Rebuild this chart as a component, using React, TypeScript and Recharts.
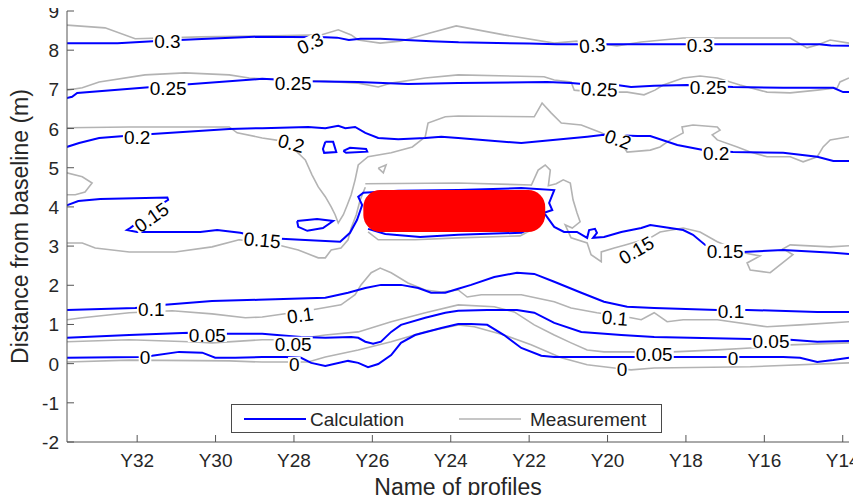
import React from 'react';
import { ComposedChart, Line, XAxis, YAxis, Scatter, ReferenceArea } from 'recharts';

type P = [number, number];

const xTicks = [32, 30, 28, 26, 24, 22, 20, 18, 16, 14];
const xTickLabels = ['Y32', 'Y30', 'Y28', 'Y26', 'Y24', 'Y22', 'Y20', 'Y18', 'Y16', 'Y14'];
const yTicks = [-2, -1, 0, 1, 2, 3, 4, 5, 6, 7, 8, 9];

// ---- Calculation contours ----
const calc030: P[] = [[33.8,8.18],[32.5,8.18],[31.6,8.23],[30.5,8.28],[29,8.34],[27.2,8.33],[26.9,8.32],[26.6,8.26],[26.3,8.29],[25.8,8.29],[24.5,8.23],[23.8,8.2],[22,8.17],[21.3,8.15],[19,8.15],[16.4,8.15],[14.6,8.15],[14.3,8.12],[13.84,8.11]];
const calc025: P[] = [[33.8,6.78],[33.66,6.81],[33.53,6.91],[31.62,7.06],[28.81,7.27],[27.64,7.21],[26.36,7.19],[25.09,7.14],[23.81,7.16],[21.54,7.19],[20.93,7.16],[20.34,7.11],[19.76,7.11],[19.4,7.06],[18.81,7.09],[17.97,7.11],[16.8,7.06],[15.52,7.04],[14.24,7.04],[13.99,6.93],[13.84,6.93]];
const calc020: P[] = [[33.8,5.53],[33.48,5.63],[32.97,5.76],[32.33,5.81],[31.62,5.86],[29.65,5.99],[28.81,6.01],[27.64,6.04],[27.2,6.01],[26.87,6.07],[26.69,6.01],[26.44,6.04],[26.18,5.89],[25.85,5.76],[25.34,5.73],[24.65,5.76],[24.24,5.79],[23.81,5.76],[22.2,5.63],[20.52,5.79],[20.09,5.84],[19.24,5.81],[18.91,5.81],[18.22,5.58],[17.56,5.45],[16.8,5.4],[15.52,5.38],[14.65,5.28],[14.24,5.17],[13.84,5.17]];
const calc020LoopA: P[] = [[27.2,5.66],[27.0,5.66],[26.92,5.4],[27.23,5.38],[27.26,5.48],[27.2,5.66]];
const calc020LoopB: P[] = [[26.74,5.43],[26.57,5.51],[26.16,5.48],[26.13,5.41],[26.67,5.38],[26.74,5.43]];
const calc015A: P[] = [[33.8,4.04],[33.5,4.15],[32.94,4.2],[31.23,4.24],[31.21,4.18],[31.41,4.05],[32.18,3.46],[32.26,3.41],[32.0,3.36],[30.39,3.36],[29.96,3.41],[29.37,3.34],[28.81,3.21],[27.84,3.16],[26.82,3.11],[26.57,3.34],[26.39,3.67],[26.26,4.05],[26.36,4.26],[26.23,4.36],[25.34,4.41],[23.81,4.43],[22.2,4.48],[21.36,4.43],[21.49,4.1],[21.41,3.92],[21.62,3.85],[21.54,3.74],[21.36,3.49],[21.11,3.36],[20.78,3.36],[20.52,3.21],[20.47,3.41],[20.32,3.44],[20.27,3.34],[20.37,3.21],[20.09,3.23],[19.65,3.36],[19.14,3.46],[18.91,3.54],[18.07,3.41],[17.82,3.29],[17.51,3.03],[16.54,2.85],[15.52,2.9],[14.24,2.83],[13.84,2.8]];
const calc015B: P[] = [[26.11,3.44],[25.67,3.31],[24.78,3.23],[23.81,3.29],[22.2,3.34],[21.95,3.46]];
const calc015Loop: P[] = [[27.92,3.64],[27.41,3.69],[27.0,3.64],[27.26,3.46],[27.66,3.39],[27.89,3.49],[27.92,3.64]];
const calc010: P[] = [[33.8,1.37],[32.05,1.42],[31.29,1.5],[30.09,1.6],[28.91,1.63],[27.2,1.68],[26.62,1.81],[26.18,1.93],[25.78,2.01],[25.27,2.01],[24.83,1.93],[24.5,1.81],[24.14,1.81],[23.81,1.91],[23.48,2.01],[22.89,2.21],[22.31,2.32],[21.87,2.29],[21.36,2.09],[20.67,1.81],[20.09,1.58],[19.5,1.45],[18.81,1.42],[17.2,1.37],[16.44,1.37],[14.65,1.32],[13.84,1.32]];
const calc005: P[] = [[33.8,0.66],[32.2,0.73],[30.67,0.79],[29.76,0.76],[28.81,0.76],[27.82,0.68],[27.2,0.66],[26.54,0.68],[26.36,0.66],[26.18,0.56],[25.98,0.51],[25.78,0.56],[25.52,0.81],[25.27,0.99],[24.65,1.17],[24.14,1.3],[23.81,1.35],[23.07,1.37],[22.31,1.37],[21.87,1.3],[21.36,1.04],[20.67,0.81],[19.65,0.73],[18.81,0.68],[16.36,0.63],[15.34,0.61],[14.65,0.56],[13.84,0.58]];
const calc000: P[] = [[33.8,0.15],[31.95,0.17],[31.62,0.2],[30.93,0.3],[30.34,0.28],[30.01,0.15],[29.5,0.15],[28.81,0.17],[28.22,0.17],[27.82,0.15],[27.56,0.02],[27.2,-0.06],[26.62,0.07],[26.36,0.02],[26.11,-0.09],[25.85,-0.01],[25.52,0.22],[25.27,0.53],[24.91,0.73],[24.24,0.91],[23.81,1.01],[23.48,1.01],[23.07,0.99],[22.64,0.73],[22.2,0.4],[21.69,0.2],[21.36,0.17],[18.81,0.17],[15.52,0.17],[15.09,0.15],[14.65,0.04],[14.24,0.09],[13.84,0.15]];

// ---- Measurement contours ----
const meas030: P[] = [[33.8,8.64],[32.82,8.57],[32.05,8.29],[30.39,8.34],[28.81,8.36],[27.31,8.39],[26.87,8.52],[26.54,8.39],[26.36,8.26],[25.8,8.18],[25.29,8.23],[24.53,8.44],[23.86,8.62],[22.64,8.39],[21.36,8.18],[20.78,8.23],[20.27,8.18],[19.76,8.11],[19.14,8.21],[18.07,8.31],[16.54,8.31],[15.34,8.31],[14.91,8.06],[14.65,8.13],[14.32,8.26],[13.84,8.18]];
const meas025: P[] = [[33.8,6.98],[33.4,7.04],[32.97,7.19],[31.8,7.37],[30.78,7.42],[29.65,7.37],[29.14,7.29],[28.81,7.27],[27.33,7.21],[26.36,7.16],[25.85,7.06],[25.52,7.16],[24.65,7.29],[23.81,7.37],[21.62,7.32],[21.36,7.24],[20.93,7.19],[20.85,6.98],[20.34,6.93],[19.5,6.93],[19.07,6.86],[18.79,6.98],[18.58,7.11],[18.07,7.29],[17.64,7.34],[17.2,7.29],[16.62,7.11],[15.93,6.93],[15.34,6.91],[14.65,6.98],[14.14,7.04],[14.07,7.19],[13.84,7.29]];
const meas020: P[] = [[33.8,6.02],[32.2,6.04],[29.65,6.04],[29.45,5.89],[28.81,5.76],[28.28,5.68],[27.97,5.45],[27.71,5.2],[27.54,4.82],[27.38,4.51],[27.2,4.26],[27.05,4.0],[26.95,3.8],[26.87,3.59],[26.74,3.8],[26.64,4.05],[26.54,4.31],[26.44,4.69],[26.36,5.07],[26.11,5.28],[25.52,5.38],[24.98,5.53],[24.65,5.79],[24.58,6.14],[24.14,6.3],[23.81,6.32],[21.87,6.3],[21.67,6.65],[21.44,6.4],[21.18,6.14],[20.67,6.09],[20.16,5.89],[19.65,5.63],[19.5,5.4],[18.91,5.45],[18.66,5.53],[18.4,5.71],[18.07,5.89],[18.1,6.04],[17.82,6.09],[17.2,6.04],[17.13,5.96],[17.33,5.84],[17.2,5.71],[16.69,5.53],[16.36,5.4],[15.93,5.28],[15.34,5.28],[15.01,5.15],[14.65,5.28],[14.5,5.53],[14.32,5.71],[13.84,5.79]];
const meas020Tri: P[] = [[25.85,4.99],[25.65,5.07],[25.72,4.87],[25.85,4.99]];
const meas015LeftLoop: P[] = [[33.8,4.87],[33.4,4.77],[33.15,4.61],[33.33,4.38],[33.58,4.31],[33.8,4.31]];
const meas015Left: P[] = [[33.8,3.08],[33.4,3.08],[33.07,2.95],[32.2,2.85],[31.03,2.85],[30.09,2.98],[29.4,3.16],[28.4,3.03],[27.89,2.9],[27.38,2.7],[27.2,2.7],[27.05,2.9],[26.8,2.95],[26.62,3.16],[26.54,3.46],[26.41,3.8],[26.31,4.18],[26.18,4.5]];
const meas015Top: P[] = [[26.18,4.59],[23.81,4.61],[21.95,4.56]];
const meas015Under: P[] = [[26.11,3.36],[25.85,3.16],[24.91,3.16],[23.81,3.21],[22.23,3.26],[21.95,3.41]];
const meas015Right: P[] = [[21.95,4.54],[21.77,4.94],[21.59,5.07],[21.46,4.94],[21.51,4.54],[21.31,4.59],[21.13,4.69],[20.95,4.61],[20.88,4.18],[20.78,3.85],[20.7,3.62],[20.9,3.46],[21.08,3.54],[20.93,3.21],[20.52,3.08],[20.42,2.78],[20.16,2.6],[20.16,2.85],[19.83,2.95],[19.55,3.03],[18.91,3.21],[18.66,3.36],[18.07,3.46],[17.64,3.36],[17.2,3.11],[16.54,2.83],[16.11,2.75],[16.44,2.57],[16.36,2.39],[15.85,2.32],[15.27,2.78],[15.52,2.93],[15.34,3.03],[14.32,2.98],[13.84,3.01]];
const meas010: P[] = [[33.8,1.12],[33.4,1.17],[32.2,1.3],[31.11,1.35],[30.09,1.27],[29.24,1.17],[28.81,1.19],[27.56,1.37],[26.8,1.5],[26.44,1.76],[26.29,2.01],[26.03,2.32],[25.8,2.44],[25.52,2.32],[25.09,2.06],[24.65,1.88],[24.24,1.83],[23.81,1.88],[23.58,1.7],[23.22,1.76],[22.2,1.76],[21.36,1.58],[20.93,1.42],[20.27,1.3],[19.4,1.17],[19.14,1.12],[18.81,1.3],[18.48,1.07],[18.07,1.12],[17.2,1.12],[15.93,0.94],[15.09,0.99],[13.84,1.07]];
const meas005: P[] = [[33.8,0.56],[32.2,0.61],[30.67,0.56],[30.09,0.53],[28.81,0.61],[28.07,0.61],[27.2,0.73],[26.36,0.81],[25.93,0.94],[25.52,1.07],[24.65,1.3],[23.81,1.5],[22.89,1.45],[22.38,1.32],[21.87,0.99],[21.36,0.73],[20.93,0.53],[20.52,0.35],[20.09,0.3],[18.33,0.3],[17.2,0.35],[16.36,0.4],[15.34,0.48],[13.84,0.53]];
const meas000: P[] = [[33.8,0.04],[32.2,0.09],[29.65,0.07],[28.81,0.04],[27.64,0.04],[27.2,0.17],[26.36,0.35],[25.52,0.56],[24.65,0.81],[23.81,0.99],[23.4,0.94],[22.64,0.73],[21.95,0.48],[21.18,0.15],[20.52,-0.03],[19.83,-0.11],[19.4,-0.16],[18.81,-0.11],[16.36,-0.08],[13.84,0.02]];

// ---- Contour labels ----
const labelX = [31.23,27.59,20.39,17.64,31.21,28.02,20.21,17.43,32.0,28.07,19.73,17.23,31.64,28.81,19.27,17.0,31.64,27.84,19.81,16.85,30.21,28.02,18.81,15.83,31.8,27.99,19.63,16.8];
const labelY = [8.23,8.18,8.13,8.13,7.04,7.16,7.01,7.06,5.79,5.63,5.73,5.38,3.74,3.16,2.9,2.88,1.4,1.24,1.17,1.35,0.73,0.51,0.25,0.58,0.17,-0.01,-0.13,0.15];
const labelText = ['0.3','0.3','0.3','0.3','0.25','0.25','0.25','0.25','0.2','0.2','0.2','0.2','0.15','0.15','0.15','0.15','0.1','0.1','0.1','0.1','0.05','0.05','0.05','0.05','0','0','0','0'];
const labelAngle = [0,-25,-5,0,0,0,3,0,0,15,20,0,-35,5,-30,0,0,-8,5,0,0,0,0,0,0,0,0,0];

// masked region
const blobX = [26.23, 21.59];
const blobY = [3.36, 4.43];

const FONT = '"Liberation Sans", Arial, Helvetica, sans-serif';
const AX = '#555';
const TXT = '#262626';
const BLUE = '#0000ff';
const GRAY = '#b3b3b3';

const toObj = (a: P[]) => a.map(([x, y]) => ({ x, y }));

const calcSeries = [calc030, calc025, calc020, calc020LoopA, calc020LoopB, calc015A, calc015B, calc015Loop, calc010, calc005, calc000];
const measSeries = [meas030, meas025, meas020, meas020Tri, meas015LeftLoop, meas015Left, meas015Top, meas015Under, meas015Right, meas010, meas005, meas000];

const labels = labelText.map((t, i) => ({ x: labelX[i], y: labelY[i], text: t, angle: labelAngle[i] }));

const BottomTick = (p: any) => {
  const i = xTicks.indexOf(p.payload.value);
  return (
    <g>
      <line x1={p.x} x2={p.x} y1={p.y} y2={p.y - 7} stroke={AX} />
      <text x={p.x} y={p.y + 25} textAnchor="middle" fontSize={19} fontFamily={FONT} fill={TXT}>{xTickLabels[i]}</text>
    </g>
  );
};
const TopTick = (p: any) => <line x1={p.x} x2={p.x} y1={p.y} y2={p.y + 7} stroke={AX} />;
const LeftTick = (p: any) => (
  <g>
    <line x1={p.x} x2={p.x + 7} y1={p.y} y2={p.y} stroke={AX} />
    <text x={p.x - 8} y={p.y + 7} textAnchor="end" fontSize={19} fontFamily={FONT} fill={TXT}>{p.payload.value}</text>
  </g>
);
const RightTick = (p: any) => <line x1={p.x} x2={p.x - 7} y1={p.y} y2={p.y} stroke={AX} />;

const LabelShape = (p: any) => {
  const { cx, cy, payload } = p;
  const t: string = payload.text;
  let w = 0;
  for (const c of t) w += c === '.' ? 5.3 : 10.6;
  return (
    <g transform={`rotate(${payload.angle}, ${cx}, ${cy})`}>
      <rect x={cx - w / 2 - 1} y={cy - 7} width={w + 2} height={14} fill="#fff" />
      <text x={cx} y={cy + 7} textAnchor="middle" fontSize={19} fontFamily={FONT} fill="#000">{t}</text>
    </g>
  );
};

export default function App() {
  return (
    <div style={{ position: 'relative', width: 853, height: 487 }}>
      <style>{`.recharts-surface{overflow:visible}`}</style>
      <ComposedChart width={853} height={487} margin={{ top: 3, right: 12, bottom: 13, left: 9 }}>
        <XAxis
          dataKey="x"
          type="number"
          domain={[13.84, 33.79]}
          reversed
          allowDataOverflow
          ticks={xTicks}
          interval={0}
          height={40}
          tickSize={0}
          tickMargin={0}
          tickLine={false}
          tick={BottomTick}
          axisLine={{ stroke: AX }}
          label={(props: any) => {
            const vb = props.viewBox;
            return (
              <text x={vb.x + vb.width / 2} y={vb.y + 53} textAnchor="middle" fontSize={23} fontFamily={FONT} fill={TXT}>Name of profiles</text>
            );
          }}
        />
        <XAxis
          xAxisId="top"
          orientation="top"
          dataKey="x"
          type="number"
          domain={[13.84, 33.79]}
          reversed
          allowDataOverflow
          ticks={xTicks}
          interval={0}
          height={0}
          tickSize={0}
          tickMargin={0}
          tickLine={false}
          tick={TopTick}
          axisLine={{ stroke: AX }}
        />
        <YAxis
          type="number"
          domain={[-2, 9]}
          allowDataOverflow
          ticks={yTicks}
          interval={0}
          width={50}
          tickSize={0}
          tickMargin={0}
          tickLine={false}
          tick={LeftTick}
          axisLine={{ stroke: AX }}
          label={(props: any) => {
            const vb = props.viewBox;
            const cx = vb.x + 11;
            const cy = vb.y + vb.height / 2;
            return (
              <text x={cx} y={cy} transform={`rotate(-90, ${cx}, ${cy})`} textAnchor="middle" fontSize={23} fontFamily={FONT} fill={TXT}>Distance from baseline (m)</text>
            );
          }}
        />
        <YAxis
          yAxisId="right"
          orientation="right"
          type="number"
          domain={[-2, 9]}
          allowDataOverflow
          ticks={yTicks}
          interval={0}
          width={0}
          tickSize={0}
          tickMargin={0}
          tickLine={false}
          tick={RightTick}
          axisLine={{ stroke: AX }}
        />
        {measSeries.map((s, i) => (
          <Line key={'m' + i} data={toObj(s)} dataKey="y" type="linear" stroke={GRAY} strokeWidth={1.6} dot={false} activeDot={false} isAnimationActive={false} />
        ))}
        {calcSeries.map((s, i) => (
          <Line key={'c' + i} data={toObj(s)} dataKey="y" type="linear" stroke={BLUE} strokeWidth={2} dot={false} activeDot={false} isAnimationActive={false} />
        ))}
        <ReferenceArea
          x1={blobX[0]}
          x2={blobX[1]}
          y1={blobY[0]}
          y2={blobY[1]}
          ifOverflow="visible"
          zIndex={1000}
          shape={(p: any) => <rect x={p.x} y={p.y} width={p.width} height={p.height} rx={17} ry={17} fill="#ff0000" />}
        />
        <Scatter data={labels} dataKey="y" shape={LabelShape} isAnimationActive={false} zIndex={1100} />
      </ComposedChart>
      <div
        style={{
          position: 'absolute',
          left: 223,
          top: 396,
          width: 429,
          height: 27,
          border: '1px solid #4a4a4a',
          background: '#fff',
        }}
      >
        <svg width={429} height={27} style={{ position: 'absolute', left: 0, top: 0 }}>
          <line x1={12} x2={74} y1={14} y2={14} stroke={BLUE} strokeWidth={2} />
          <line x1={227} x2={289} y1={14} y2={14} stroke={GRAY} strokeWidth={1.6} />
          <text x={78} y={21} fontSize={19} fontFamily={FONT} fill={TXT}>Calculation</text>
          <text x={298} y={21} fontSize={19} fontFamily={FONT} fill={TXT}>Measurement</text>
        </svg>
      </div>
    </div>
  );
}
